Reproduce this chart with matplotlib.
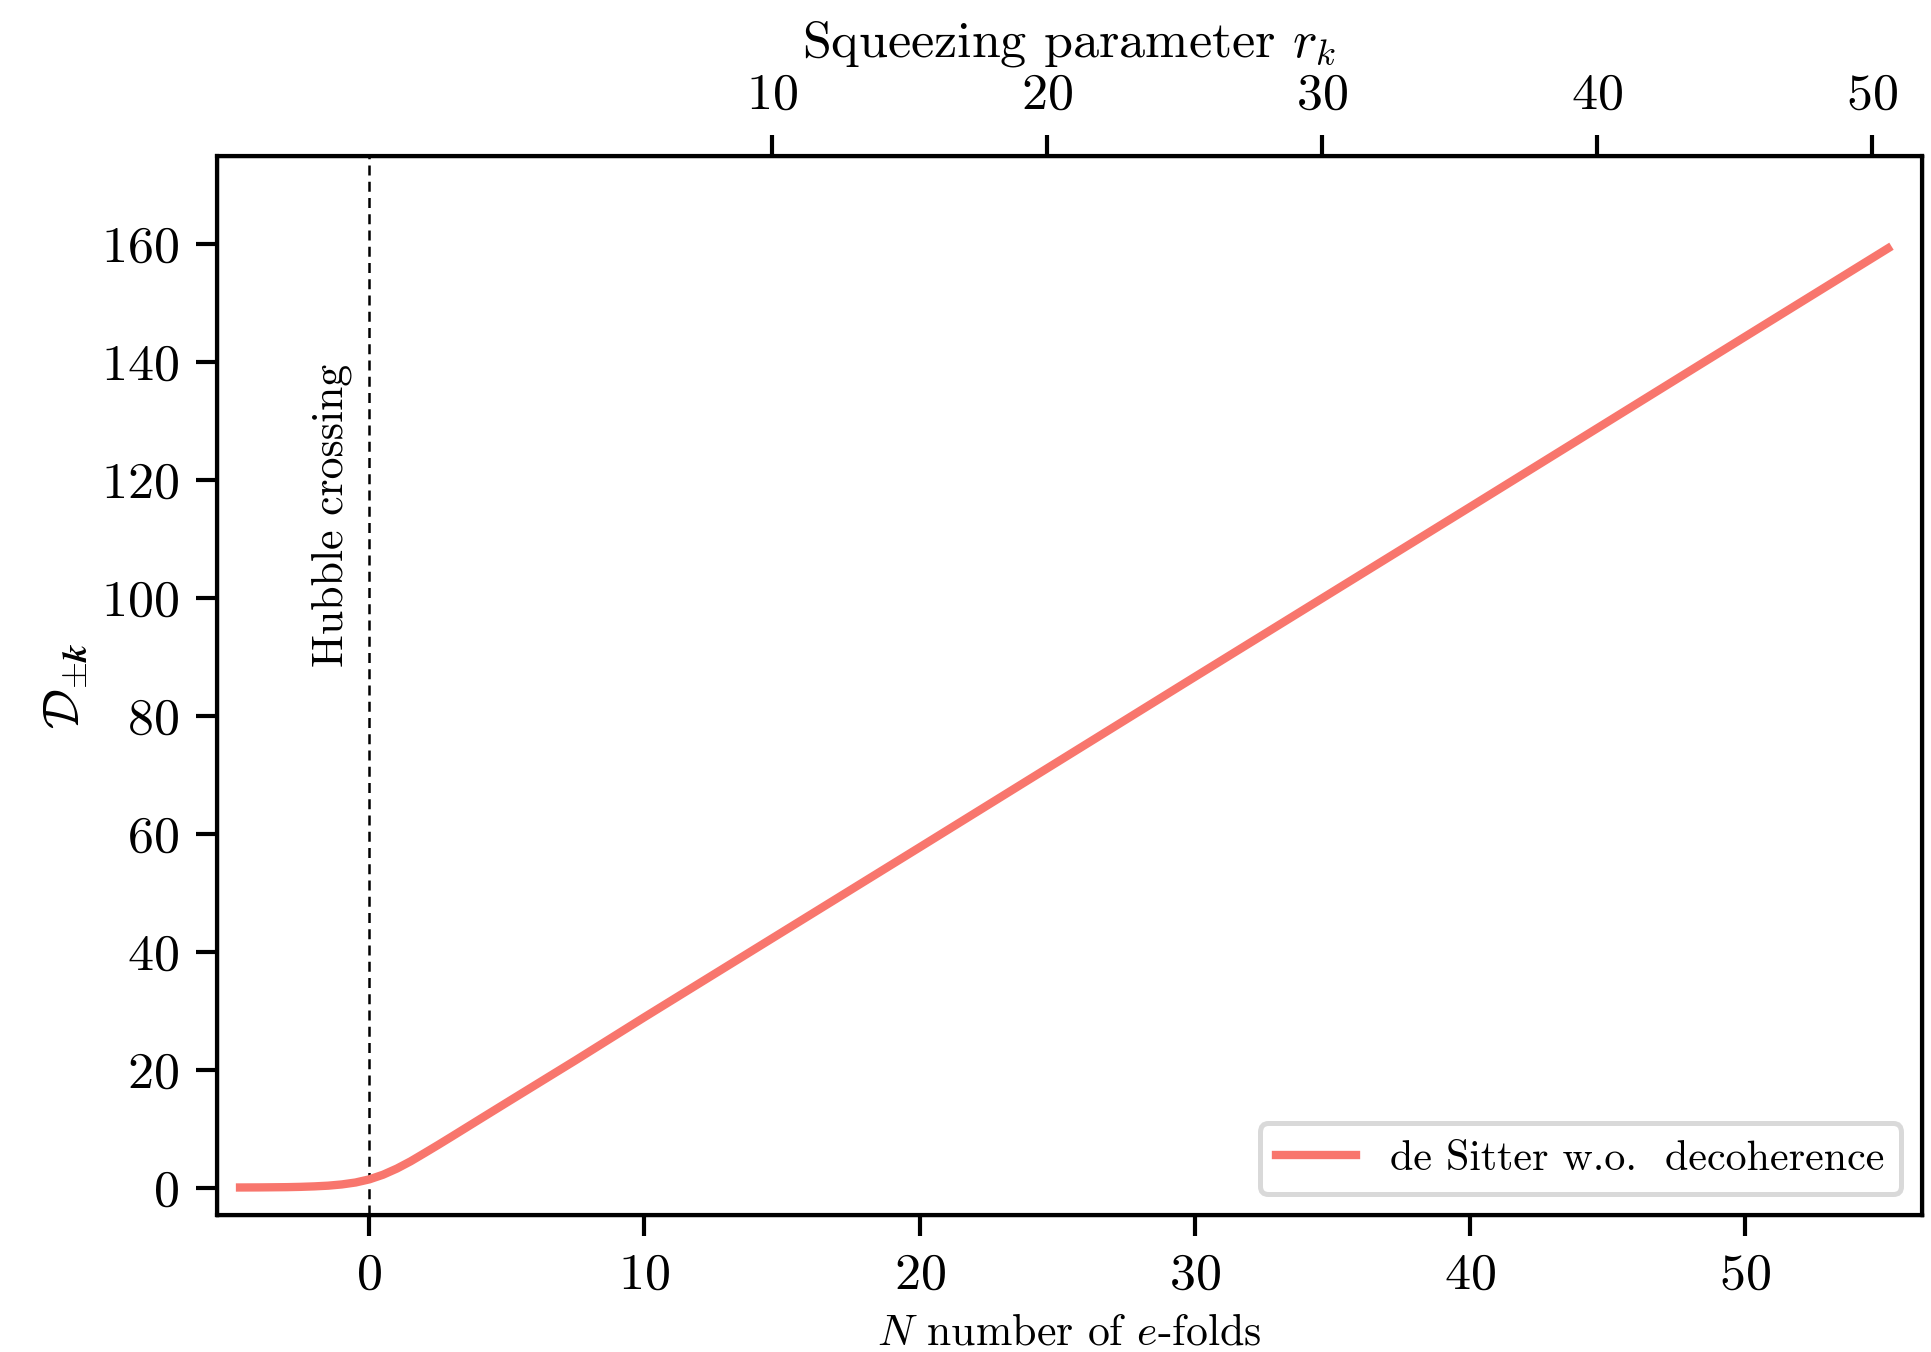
import matplotlib
matplotlib.use("Agg")
import matplotlib.pyplot as plt

plt.rcParams['font.family'] = 'serif'
plt.rcParams['font.serif'] = ['cmr10']
plt.rcParams['mathtext.fontset'] = 'cm'
plt.rcParams['axes.formatter.use_mathtext'] = True

# Data
N_efolds = [-4.7, -4.0, -3.0, -2.5, -2.0, -1.5, -1.0, -0.5, 0.0, 0.5, 1.0, 1.5,
            2.0, 2.5, 3.0, 4.0, 5.0, 7.5, 10.0, 15.0, 20.0, 30.0, 40.0, 50.0, 55.2]
D_values = [0.013, 0.026, 0.07, 0.12, 0.20, 0.32, 0.53, 0.86, 1.39, 2.18, 3.22, 4.45,
            5.83, 7.23, 8.66, 11.55, 14.43, 21.6, 28.9, 43.3, 57.7, 86.6, 115.4, 144.3, 159.3]

line_label = "de Sitter w.o.  decoherence"
xticks_bottom = [0, 10, 20, 30, 40, 50]
yticks = [0, 20, 40, 60, 80, 100, 120, 140, 160]
xticks_top = [10, 20, 30, 40, 50]

fig = plt.figure(figsize=(1931/300, 1352/300), dpi=300)
ax = fig.add_axes([0.1122, 0.1010, 0.9955-0.1122, 0.8843-0.1010])

ax.plot(N_efolds, D_values, color='#F8766D', lw=2.0, label=line_label, zorder=3)
ax.axvline(0, color='black', lw=0.6, ls=(0, (4, 2.5)))
ax.text(-1.35, 114, "Hubble crossing", rotation=90, ha='center', va='center', fontsize=10.5)

ax.set_xlim(-5.55, 56.45)
ax.set_ylim(-4.73, 174.9)
ax.set_xticks(xticks_bottom)
ax.set_yticks(yticks)
ax.tick_params(axis='both', direction='out', length=5, width=1.0, labelsize=12.5, pad=4)
for s in ax.spines.values():
    s.set_linewidth(1.0)

ax.set_xlabel(r"$N$ number of $e$-folds", fontsize=10.5, labelpad=3.5)
ax.set_ylabel(r"$\mathcal{D}_{\pm \boldsymbol{k}}$", fontsize=12, labelpad=3)

ax2 = ax.twiny()
ax2.set_xlim(-5.55 - 4.63, 56.45 - 4.63)
ax2.set_xticks(xticks_top)
ax2.tick_params(axis='x', direction='out', length=5, width=1.0, labelsize=12.5, pad=4)
ax2.set_xlabel(r"Squeezing parameter $r_k$", fontsize=12.5, labelpad=4)

leg = ax.legend(loc='lower right', fontsize=10.1, frameon=True, fancybox=True,
                framealpha=1.0, edgecolor='#d9d9d9', borderpad=0.4, handlelength=1.9)
leg.get_frame().set_linewidth(1.2)

fig.savefig("out.png", dpi=300)
